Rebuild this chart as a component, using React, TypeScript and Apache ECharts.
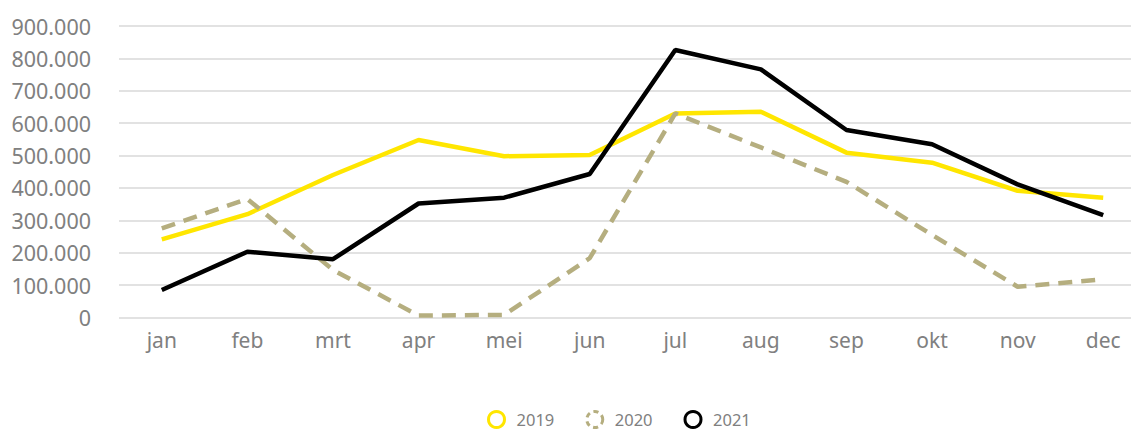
import React, { useEffect, useRef } from "react";
import * as echarts from "echarts";

const months = ["jan", "feb", "mrt", "apr", "mei", "jun", "jul", "aug", "sep", "okt", "nov", "dec"];
const s2019 = [241000, 319000, 440000, 548000, 498000, 502000, 630000, 635000, 509000, 478000, 391000, 370000];
const s2020 = [275000, 366000, 147000, 6000, 8000, 183000, 630000, 525000, 419000, 255000, 95000, 118000];
const s2021 = [85000, 203000, 180000, 352000, 370000, 443000, 826000, 766000, 579000, 535000, 411000, 316000];

const fmt = (v: number) => (v === 0 ? "0" : String(v).replace(/\B(?=(\d{3})+(?!\d))/g, "."));

export default function App() {
  const ref = useRef<HTMLDivElement>(null);
  useEffect(() => {
    const chart = echarts.init(ref.current!, null, { renderer: "svg" });
    const font = "Noto Sans";
    chart.setOption({
      animation: false,
      grid: { left: 119, right: 0, top: 26, bottom: 112.5, containLabel: false },
      legend: {
        bottom: 1,
        left: 487,
        padding: 0,
        itemWidth: 16,
        itemHeight: 16,
        itemGap: 31,
        icon: "circle",
        textStyle: { color: "#808080", fontSize: 16.5, fontFamily: font, padding: [0, 0, 0, 7] },
        data: [
          { name: "2019", itemStyle: { color: "transparent", borderColor: "#FFE600", borderWidth: 3 } },
          { name: "2020", itemStyle: { color: "transparent", borderColor: "#B5AE7F", borderWidth: 3, borderType: [5, 4] } },
          { name: "2021", itemStyle: { color: "transparent", borderColor: "#000000", borderWidth: 3 } },
        ],
      },
      xAxis: {
        type: "category",
        data: months,
        boundaryGap: true,
        axisLine: { show: false },
        axisTick: { show: false },
        axisLabel: { color: "#808080", fontSize: 21, fontFamily: font, margin: 12 },
      },
      yAxis: {
        type: "value",
        min: 0,
        max: 900000,
        interval: 100000,
        axisLine: { show: false },
        axisTick: { show: false },
        splitLine: { lineStyle: { color: "#d9d9d9", width: 1.5 } },
        axisLabel: { color: "#808080", fontSize: 21.5, fontFamily: font, margin: 28, formatter: fmt },
      },
      series: [
        {
          name: "2019", type: "line", data: s2019, symbol: "none",
          lineStyle: { color: "#FFE600", width: 4.5 }, itemStyle: { color: "#FFE600" },
        },
        {
          name: "2020", type: "line", data: s2020, symbol: "none",
          lineStyle: { color: "#B5AE7F", width: 4.5, type: [14, 9] }, itemStyle: { color: "#B5AE7F" },
        },
        {
          name: "2021", type: "line", data: s2021, symbol: "none",
          lineStyle: { color: "#000000", width: 4.5 }, itemStyle: { color: "#000000" },
        },
      ],
    });
    return () => chart.dispose();
  }, []);
  return (
    <div style={{ width: 1131, height: 430, position: "absolute", left: 0, top: 0, overflow: "hidden" }}>
      <div ref={ref} style={{ width: 1146, height: 430 }} />
    </div>
  );
}
